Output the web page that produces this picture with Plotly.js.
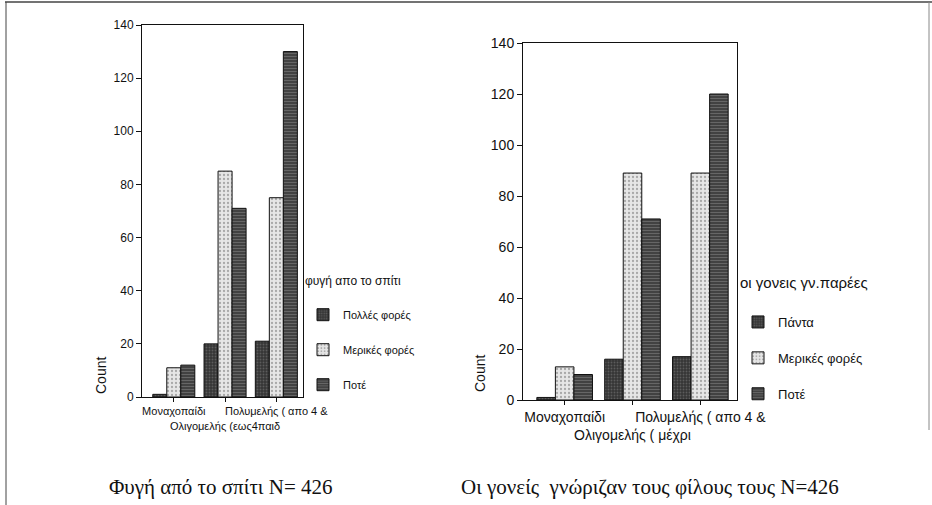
<!DOCTYPE html>
<html>
<head>
<meta charset="utf-8">
<script src="https://cdn.plot.ly/plotly-3.0.1.min.js"></script>
<style>html,body{margin:0;padding:0;background:#fff;}#chart{width:932px;height:505px;}</style>
</head>
<body>
<div id="chart"></div>
<script>
// ---- data ----
const categories1 = ["Μοναχοπαίδι", "Ολιγομελής (εως4παιδ", "Πολυμελής ( απο 4 &"];
const categories2 = ["Μοναχοπαίδι", "Ολιγομελής ( μέχρι", "Πολυμελής ( απο 4 &"];
const series1Names = ["Πολλές φορές", "Μερικές φορές", "Ποτέ"];
const series2Names = ["Πάντα", "Μερικές φορές", "Ποτέ"];
const fuga_polles = [1, 20, 21];
const fuga_merikes = [11, 85, 75];
const fuga_pote = [12, 71, 130];
const goneis_panta = [1, 16, 17];
const goneis_merikes = [13, 89, 89];
const goneis_pote = [10, 71, 120];
const yTicks = [0, 20, 40, 60, 80, 100, 120, 140];
const legend1Title = "φυγή απο το σπίτι";
const legend2Title = "οι γονεις γν.παρέες";
const caption1 = "Φυγή από το σπίτι N= 426";
const caption2 = "Οι γονείς  γνώριζαν τους φίλους τους N=426";
const yTitle = "Count";

// ---- styles ----
const W = 932, H = 505;
const px = v => v / W, py = v => 1 - v / H;
const narrow = "'Liberation Sans Narrow', 'Arial Narrow', 'Liberation Sans', sans-serif";
const sans = "'Liberation Sans', Arial, sans-serif";
const serif = "'Liberation Serif', 'Times New Roman', serif";
const styles = [
  {color: "#383838", pattern: {shape: ".", fgcolor: "#5c5c5c", bgcolor: "#353535", size: 3, solidity: 0.3}},
  {color: "#dcdcdc", pattern: {shape: ".", fgcolor: "#a8a8a8", bgcolor: "#e6e6e6", size: 4, solidity: 0.25}},
  {color: "#4a4a4a", pattern: {shape: "-", fgcolor: "#6a6a6a", bgcolor: "#424242", size: 3, solidity: 0.3}}
];

function mk(x, y, name, i, xa, ya, lg) {
  return {
    type: "bar", x: x, y: y, name: name, xaxis: xa, yaxis: ya, legend: lg,
    legendgroup: lg + i,
    marker: {color: styles[i].color, pattern: styles[i].pattern, line: {color: "#111", width: 1}},
    hoverinfo: "x+y+name"
  };
}
const data = [
  mk(categories1, fuga_polles, series1Names[0], 0, "x", "y", "legend"),
  mk(categories1, fuga_merikes, series1Names[1], 1, "x", "y", "legend"),
  mk(categories1, fuga_pote, series1Names[2], 2, "x", "y", "legend"),
  mk(categories2, goneis_panta, series2Names[0], 0, "x2", "y2", "legend2"),
  mk(categories2, goneis_merikes, series2Names[1], 1, "x2", "y2", "legend2"),
  mk(categories2, goneis_pote, series2Names[2], 2, "x2", "y2", "legend2")
];

const tt = cats => cats.map((c, i) => i === 1 ? "<br>" + c : c);
const axBase = {showline: true, linecolor: "#111", linewidth: 1, mirror: true, showgrid: false, zeroline: false,
  ticks: "outside", tickcolor: "#111", ticklen: 4, fixedrange: true};

const layout = {
  width: W, height: H, margin: {l: 0, r: 0, t: 0, b: 0},
  paper_bgcolor: "#fff", plot_bgcolor: "#fff",
  barmode: "group", bargap: 0.18, bargroupgap: 0,
  showlegend: true,
  xaxis: Object.assign({}, axBase, {domain: [px(142), px(303)], anchor: "y", type: "category",
    range: [-0.62, 2.52], tickvals: categories1, ticktext: tt(categories1), tickangle: 0,
    tickfont: {family: narrow, size: 11, color: "#111"}}),
  yaxis: Object.assign({}, axBase, {domain: [py(397), py(25)], anchor: "x", range: [0, 140],
    tickvals: yTicks, ticklen: 5, tickfont: {family: narrow, size: 12, color: "#111"}}),
  xaxis2: Object.assign({}, axBase, {domain: [px(523), px(737)], anchor: "y2", type: "category",
    range: [-0.614, 2.54], tickvals: categories2, ticktext: tt(categories2), tickangle: 0,
    tickfont: {family: sans, size: 14, color: "#111"}}),
  yaxis2: Object.assign({}, axBase, {domain: [py(400), py(43)], anchor: "x2", range: [0, 140],
    tickvals: yTicks, ticklen: 5, tickfont: {family: sans, size: 14, color: "#111"}}),
  legend: {x: px(303), y: py(269), xanchor: "left", yanchor: "top", bgcolor: "rgba(0,0,0,0)",
    title: {text: legend1Title + "<br> ", font: {family: narrow, size: 12, color: "#111"}},
    font: {family: narrow, size: 11, color: "#111"}, tracegroupgap: 16, itemwidth: 30, traceorder: "grouped"},
  legend2: {x: px(738), y: py(268), xanchor: "left", yanchor: "top", bgcolor: "rgba(0,0,0,0)",
    title: {text: legend2Title + "<br> ", font: {family: sans, size: 15, color: "#111"}},
    font: {family: sans, size: 13, color: "#111"}, tracegroupgap: 16, itemwidth: 30, traceorder: "grouped"},
  annotations: [
    {text: yTitle, xref: "paper", yref: "paper", x: px(101), y: py(376), xanchor: "center", yanchor: "middle",
      textangle: -90, showarrow: false, font: {family: sans, size: 14, color: "#111"}},
    {text: yTitle, xref: "paper", yref: "paper", x: px(480), y: py(374), xanchor: "center", yanchor: "middle",
      textangle: -90, showarrow: false, font: {family: sans, size: 14, color: "#111"}},
    {text: caption1, xref: "paper", yref: "paper", x: px(220), y: py(487), xanchor: "center", yanchor: "middle",
      showarrow: false, font: {family: serif, size: 21, color: "#111"}},
    {text: caption2, xref: "paper", yref: "paper", x: px(650), y: py(487), xanchor: "center", yanchor: "middle",
      showarrow: false, font: {family: serif, size: 21, color: "#111"}}
  ],
  shapes: [
    {type: "line", xref: "paper", yref: "paper", x0: px(5), x1: 1, y0: py(2), y1: py(2), line: {color: "#444", width: 1.5}},
    {type: "line", xref: "paper", yref: "paper", x0: px(6), x1: px(6), y0: py(2), y1: 0, line: {color: "#444", width: 1}},
    {type: "line", xref: "paper", yref: "paper", x0: px(929), x1: px(929), y0: py(2), y1: py(430), line: {color: "#888", width: 1}}
  ]
};

Plotly.newPlot("chart", data, layout, {displayModeBar: false, staticPlot: true});
</script>
</body>
</html>
